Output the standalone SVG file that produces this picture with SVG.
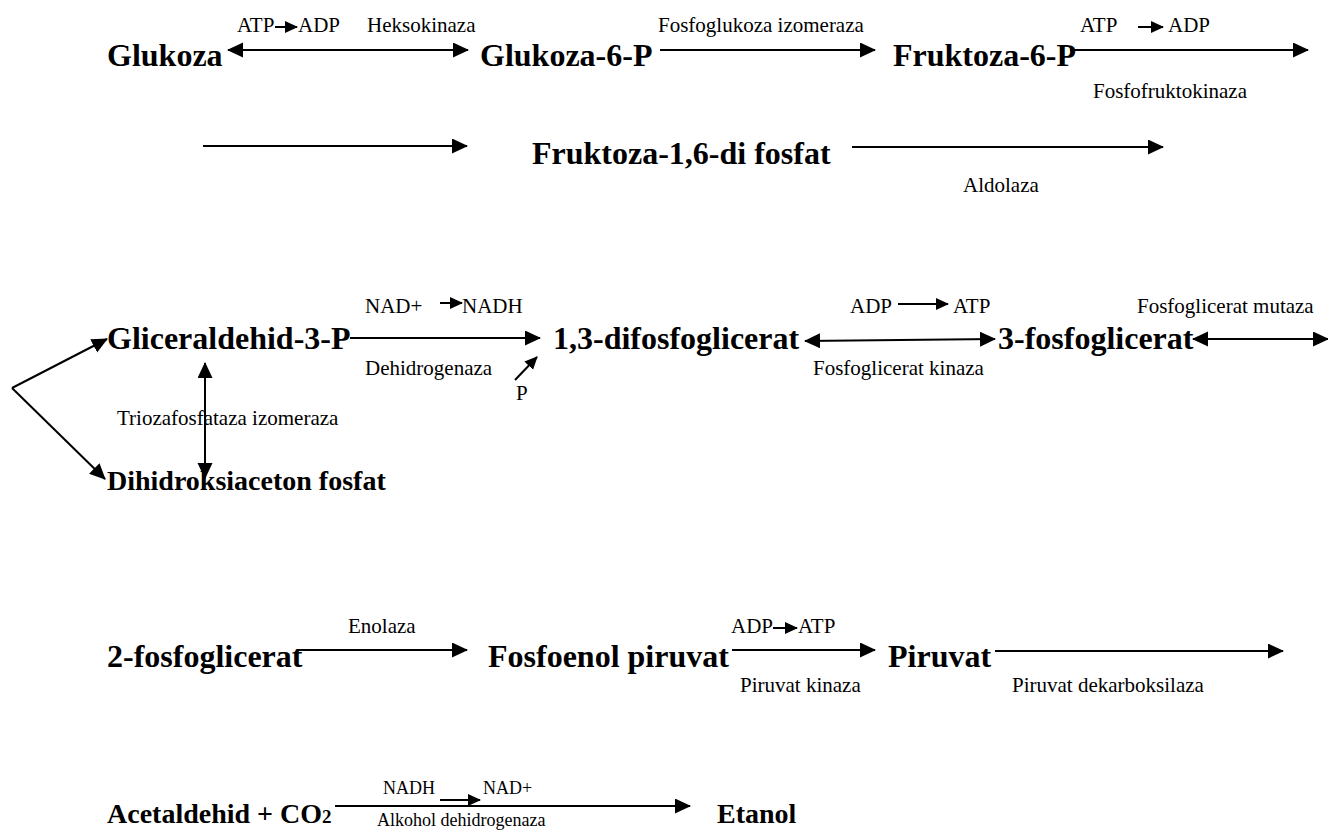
<svg xmlns="http://www.w3.org/2000/svg" width="1328" height="830" viewBox="0 0 1328 830">
<style>
.big{font-family:"Liberation Serif","Times New Roman",serif;font-weight:bold;font-size:32px;fill:#000}
.mid{font-family:"Liberation Serif","Times New Roman",serif;font-weight:bold;font-size:28px;fill:#000}
.sm{font-family:"Liberation Serif","Times New Roman",serif;font-size:21px;fill:#000}
.xs{font-family:"Liberation Serif","Times New Roman",serif;font-size:18px;fill:#000}
.ln{stroke:#000;stroke-width:2;fill:none}
.a{marker-end:url(#ah)}
.d{marker-start:url(#ah);marker-end:url(#ah)}
.s{marker-end:url(#sa)}
</style>
<defs>
<marker id="ah" markerUnits="userSpaceOnUse" markerWidth="17" markerHeight="17" refX="15" refY="7.5" orient="auto-start-reverse" viewBox="0 0 17 17"><path d="M0,0 L16,7.5 L0,15 z" fill="#000"/></marker>
<marker id="sa" markerUnits="userSpaceOnUse" markerWidth="14" markerHeight="14" refX="12" refY="6" orient="auto" viewBox="0 0 14 14"><path d="M0,0 L13,6 L0,12 z" fill="#000"/></marker>
</defs>
<rect width="1328" height="830" fill="#fff"/>
<g id="connectors">
<line class="ln d" x1="228" y1="50" x2="468" y2="50"/>
<line class="ln s" x1="275" y1="27" x2="297" y2="27"/>
<line class="ln a" x1="660" y1="50" x2="875" y2="50"/>
<line class="ln a" x1="1070" y1="50" x2="1308" y2="50"/>
<line class="ln s" x1="1138" y1="27" x2="1163" y2="27"/>
<line class="ln a" x1="203" y1="146" x2="467" y2="146"/>
<line class="ln a" x1="852" y1="147" x2="1163" y2="147"/>
<line class="ln a" x1="12" y1="388" x2="107" y2="339"/>
<line class="ln a" x1="12" y1="388" x2="105" y2="479"/>
<line class="ln d" x1="205" y1="363" x2="205" y2="478"/>
<line class="ln a" x1="350" y1="338" x2="540" y2="338"/>
<line class="ln s" x1="440" y1="303" x2="462" y2="303"/>
<line class="ln s" x1="515" y1="380" x2="537" y2="357"/>
<line class="ln d" x1="805" y1="341" x2="995" y2="339"/>
<line class="ln s" x1="898" y1="304" x2="948" y2="304"/>
<line class="ln d" x1="1193" y1="339" x2="1328" y2="339"/>
<line class="ln a" x1="298" y1="650" x2="467" y2="650"/>
<line class="ln a" x1="732" y1="650" x2="875" y2="650"/>
<line class="ln s" x1="773" y1="628" x2="797" y2="628"/>
<line class="ln a" x1="995" y1="651" x2="1283" y2="651"/>
<line class="ln a" x1="335" y1="806" x2="690" y2="806"/>
<line class="ln s" x1="440" y1="800" x2="480" y2="800"/>
</g>
<g id="glukoza"><text class="big" x="107" y="66">Glukoza</text></g>
<g id="glukoza6p"><text class="big" x="480" y="66">Glukoza-6-P</text></g>
<g id="fruktoza6p"><text class="big" x="893" y="66">Fruktoza-6-P</text></g>
<g id="fruktoza16"><text class="big" x="532" y="164">Fruktoza-1,6-di fosfat</text></g>
<g id="gliceraldehid"><text class="big" x="107" y="349">Gliceraldehid-3-P</text></g>
<g id="difosfoglicerat13"><text class="big" x="553" y="349">1,3-difosfoglicerat</text></g>
<g id="fosfoglicerat3"><text class="big" x="998" y="349">3-fosfoglicerat</text></g>
<g id="dihidroksiaceton"><text class="mid" x="107" y="490">Dihidroksiaceton fosfat</text></g>
<g id="fosfoglicerat2"><text class="big" x="107" y="667">2-fosfoglicerat</text></g>
<g id="fosfoenol"><text class="big" x="488" y="667">Fosfoenol piruvat</text></g>
<g id="piruvat"><text class="big" x="888" y="667">Piruvat</text></g>
<g id="acetaldehid"><text class="mid" x="107" y="823" font-size="27">Acetaldehid + CO<tspan font-size="19">2</tspan></text></g>
<g id="etanol"><text class="mid" x="717" y="823">Etanol</text></g>
<g id="labels">
<text class="sm" x="237" y="32">ATP</text>
<text class="sm" x="298" y="32">ADP</text>
<text class="sm" x="367" y="32">Heksokinaza</text>
<text class="sm" x="658" y="32">Fosfoglukoza izomeraza</text>
<text class="sm" x="1080" y="32">ATP</text>
<text class="sm" x="1168" y="32">ADP</text>
<text class="sm" x="1093" y="98">Fosfofruktokinaza</text>
<text class="sm" x="963" y="192">Aldolaza</text>
<text class="sm" x="365" y="313">NAD+</text>
<text class="sm" x="462" y="313">NADH</text>
<text class="sm" x="365" y="375">Dehidrogenaza</text>
<text class="sm" x="516" y="400">P</text>
<text class="sm" x="850" y="313">ADP</text>
<text class="sm" x="953" y="313">ATP</text>
<text class="sm" x="813" y="375">Fosfoglicerat kinaza</text>
<text class="sm" x="1137" y="313">Fosfoglicerat mutaza</text>
<text class="sm" x="117" y="425">Triozafosfataza izomeraza</text>
<text class="sm" x="348" y="633">Enolaza</text>
<text class="sm" x="731" y="633">ADP</text>
<text class="sm" x="798" y="633">ATP</text>
<text class="sm" x="740" y="692">Piruvat kinaza</text>
<text class="sm" x="1012" y="692">Piruvat dekarboksilaza</text>
<text class="xs" x="383" y="794">NADH</text>
<text class="xs" x="483" y="794">NAD+</text>
<text class="xs" x="377" y="826">Alkohol dehidrogenaza</text>
</g>
</svg>
